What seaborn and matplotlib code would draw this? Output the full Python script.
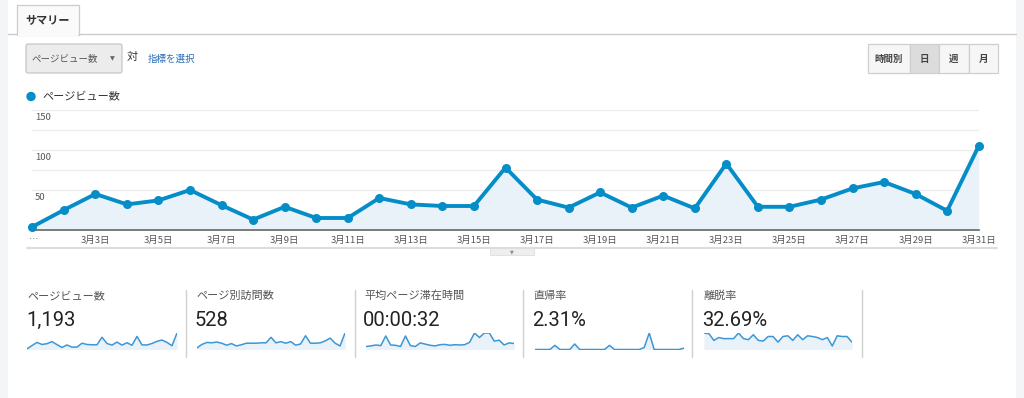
import matplotlib
matplotlib.use('Agg')
import numpy as np
import pandas as pd
import seaborn as sns
from matplotlib import pyplot as plt
from matplotlib.patches import Rectangle, FancyBboxPatch, Circle

sns.set_style("white")
plt.rcParams['font.family'] = ['Noto Sans CJK JP', 'DejaVu Sans']

# daily page views, March 1..31
days = list(range(1, 32))
page_views = [4, 25, 45, 32, 37, 50, 31, 13, 29, 15, 15, 40, 32, 30, 30, 78,
              38, 28, 47, 28, 43, 27, 83, 29, 29, 38, 52, 60, 45, 24, 105]

# sparkline series
visits = [4, 13, 18, 17, 19, 16, 11, 15, 9, 12, 16, 16, 16, 17, 17, 31,
          17, 20, 16, 20, 11, 14, 35, 16, 16, 17, 22, 29, 16, 9, 42]
avg_time = [10, 12, 15, 13, 45, 15, 14, 10, 45, 13, 10, 22, 18, 14, 12, 16,
            17, 14, 16, 15, 16, 24, 55, 40, 55, 55, 28, 31, 15, 22, 20]
direct_rate = [0, 0, 0, 0, 3, 0, 0, 0, 4, 0, 0, 0, 0, 0, 0, 3,
               0, 0, 0, 0, 0, 0, 1.5, 12, 0, 0, 0, 0, 0, 0, 1]
bounce_rate = [47, 45, 26, 34, 31, 31, 31, 47, 31, 28, 42, 26, 24, 37, 37, 21,
               37, 39, 26, 42, 28, 39, 37, 34, 28, 34, 10, 39, 37, 37, 21]

metric_names = ["ページビュー数", "ページ別訪問数", "平均ページ滞在時間", "直帰率", "離脱率"]
metric_values = ["1,193", "528", "00:00:32", "2.31%", "32.69%"]
metric_series = [page_views, visits, avg_time, direct_rate, bounce_rate]

y_labels = [50, 100, 150]
x_ticks = [1] + list(range(3, 32, 2))
x_ticklabels = ["…"] + [f"3月{d}日" for d in range(3, 32, 2)]
periods = ["時間別", "日", "週", "月"]

W, H = 1024, 398
BLUE = "#058dc7"
FILL = "#e9f1f9"

fig = plt.figure(figsize=(W / 100, H / 100), dpi=100)

def px_axes(x0, y0, x1, y1):
    # axes placed by pixel box (top-left origin)
    return fig.add_axes([x0 / W, 1 - y1 / H, (x1 - x0) / W, (y1 - y0) / H])

# ---- page chrome ----
ui = fig.add_axes([0, 0, 1, 1])
ui.set_xlim(0, W)
ui.set_ylim(H, 0)
ui.axis('off')
ui.add_patch(Rectangle((0, 0), 8, H, color="#f4f5f7", lw=0))
ui.add_patch(Rectangle((1016, 0), 8, H, color="#f4f5f7", lw=0))
ui.plot([8, 1016], [34, 34], color="#cccccc", lw=1, zorder=2)
ui.add_patch(Rectangle((17, 5), 62, 29.5, facecolor="#fafafa", edgecolor="#cccccc",
                       lw=0.9, zorder=3))
ui.add_patch(Rectangle((17.6, 32.5), 60.8, 3, facecolor="#fafafa", lw=0, zorder=4))
ui.text(48, 20, "サマリー", fontsize=8, fontweight='bold', color="#333333",
        ha='center', va='center', zorder=5)

# metric dropdown
ui.add_patch(FancyBboxPatch((26, 44), 96, 29, boxstyle="round,pad=0,rounding_size=2",
                            facecolor="#ececec", edgecolor="#c6c6c6", lw=0.9))
ui.text(32, 59, "ページビュー数", fontsize=6.8, color="#555555", va='center')
ui.text(112, 59, "▼", fontsize=4.5, color="#666666", va='center', ha='center',
        family='DejaVu Sans')
ui.text(127, 57, "対", fontsize=8, color="#333333", va='center')
ui.text(148, 59, "指標を選択", fontsize=6.8, color="#2a6db5", va='center')

# period buttons
edges = [868, 910, 939, 969, 998]
for i, lab in enumerate(periods):
    fc = "#dcdcdc" if lab == "日" else "#f6f6f6"
    ui.add_patch(Rectangle((edges[i], 44), edges[i + 1] - edges[i], 29,
                           facecolor=fc, edgecolor="#cfcfcf", lw=0.9))
    ui.text((edges[i] + edges[i + 1]) / 2, 59, lab, fontsize=6.8, color="#444444",
            ha='center', va='center', fontweight='bold')

# legend
ui.add_patch(Circle((31, 96.5), 4, color=BLUE))
ui.text(42, 96.5, "ページビュー数", fontsize=8, color="#333333", va='center')

# strip under the axis with small handle
ui.plot([27, 997], [248, 248], color="#dddddd", lw=1.5)
ui.add_patch(Rectangle((490, 248), 44, 7, facecolor="#eeeeee", edgecolor="#dddddd", lw=0.6))
ui.text(512, 251.5, "▼", fontsize=3.5, color="#888888", ha='center', va='center',
        family='DejaVu Sans')

# ---- main line chart ----
df = pd.DataFrame({"day": days, "views": page_views})
ax = px_axes(32.3, 110, 978.7, 230)
ax.set_facecolor('none')
ax.fill_between(df["day"], df["views"], 0, color=FILL, lw=0, zorder=1)
sns.lineplot(data=df, x="day", y="views", ax=ax, color=BLUE, lw=2.8,
             marker='o', markersize=6.5, markeredgewidth=0, clip_on=False, zorder=3)
ax.set_xlim(1, 31)
ax.set_ylim(0, 150)
ax.set_yticks([50, 75, 100, 125, 150])
ax.set_yticklabels([])
ax.grid(axis='y', color="#ececec", lw=0.9)
ax.set_axisbelow(True)
ax.set_xticks(x_ticks)
ax.set_xticklabels(x_ticklabels, fontsize=6.8, color="#555555")
ax.tick_params(axis='both', length=0)
ax.tick_params(axis='x', pad=4)
ax.set_xlabel("")
ax.set_ylabel("")
for s in ["top", "left", "right"]:
    ax.spines[s].set_visible(False)
ax.spines["bottom"].set_color("#666666")
ax.spines["bottom"].set_linewidth(1.2)
for v in y_labels:
    ax.text(1.09, v - 3.5, str(v), fontsize=6.8, color="#555555", va='top', ha='left')

# ---- summary metrics ----
block_x = [27, 196, 364, 533, 703]
spark_x = [(27, 177), (197, 345), (366, 514), (535, 684), (704, 852)]
for i in range(5):
    ui.text(block_x[i], 296, metric_names[i], fontsize=8, color="#555555", va='center')
    ui.text(block_x[i] - 1, 320, metric_values[i], fontsize=14.5, color="#222222",
            va='center', family=['Roboto', 'DejaVu Sans'])
    sx = px_axes(spark_x[i][0], 333, spark_x[i][1], 349.5)
    vals = metric_series[i]
    sx.fill_between(days, vals, 0, color=FILL, lw=0)
    sns.lineplot(x=days, y=vals, ax=sx, color="#3b97d6", lw=1.1)
    sx.set_xlim(1, 31)
    sx.set_ylim(0, max(vals))
    sx.axis('off')

for x in [186, 355, 523, 692, 862]:
    ui.plot([x, x], [290, 357], color="#d0d0d0", lw=1)

fig.savefig("out.png", dpi=100)
